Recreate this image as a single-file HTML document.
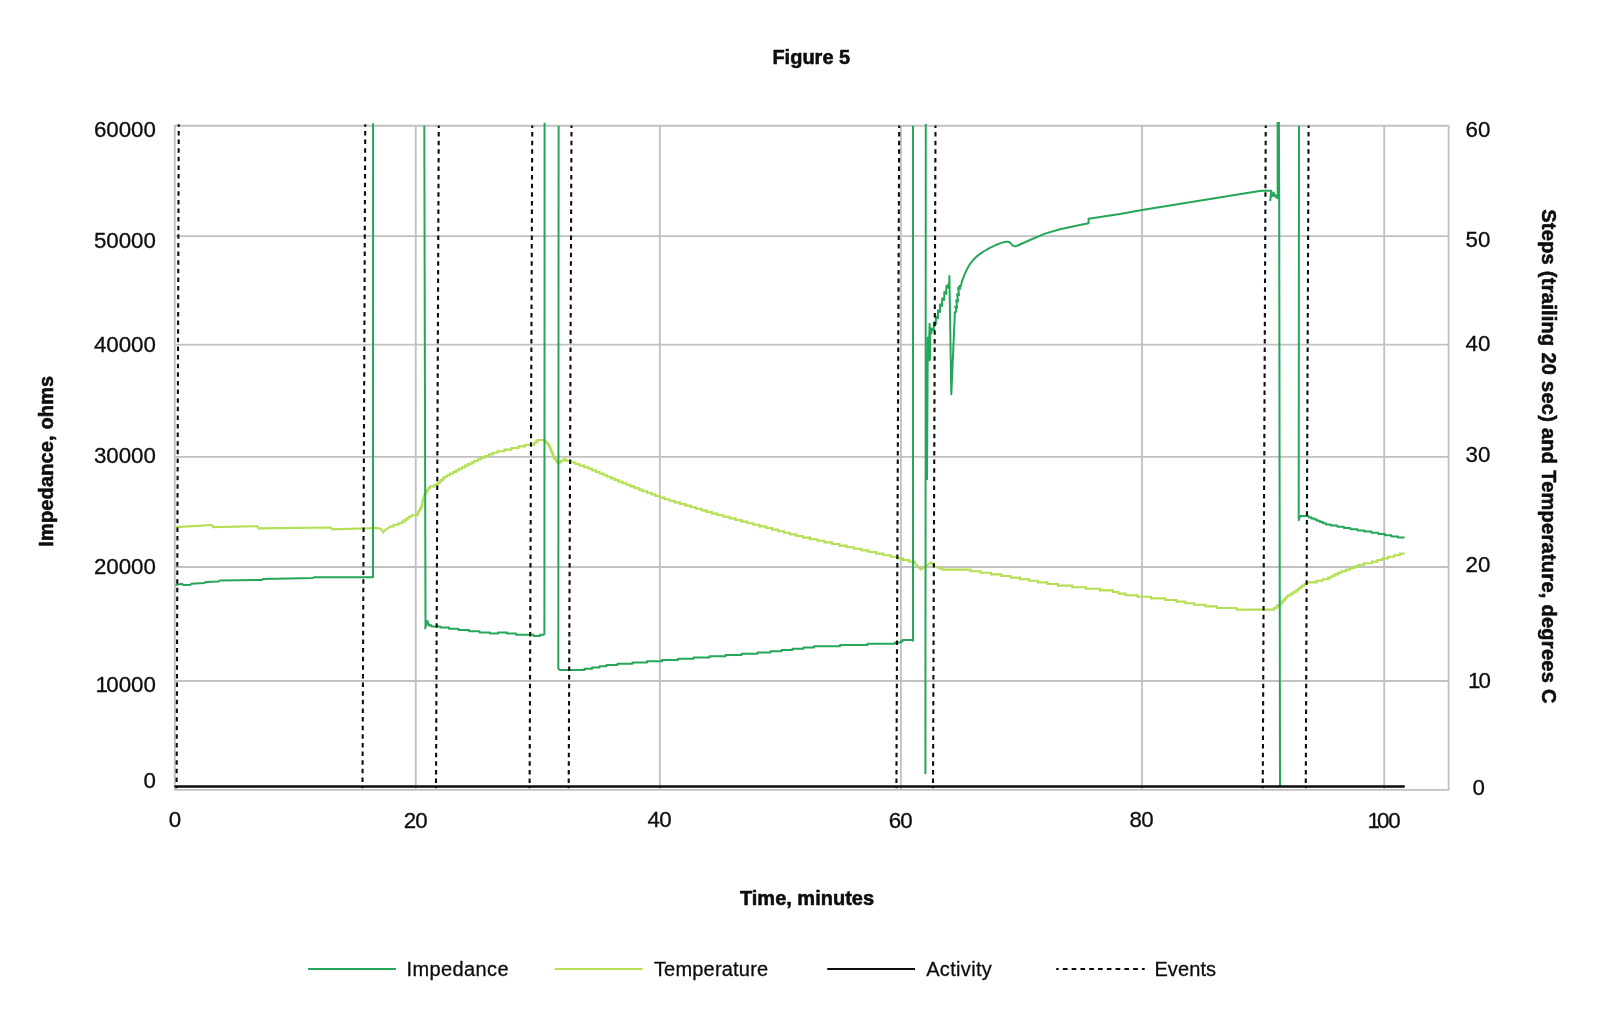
<!DOCTYPE html>
<html lang="en">
<head>
<meta charset="utf-8">
<title>Figure 5</title>
<style>
html,body{margin:0;padding:0;background:#fff;}
body{width:1600px;height:1020px;overflow:hidden;font-family:"Liberation Sans",Arial,Helvetica,sans-serif;}
svg{display:block;will-change:transform;}
</style>
</head>
<body>
<svg width="1600" height="1020" viewBox="0 0 1600 1020">
<rect width="1600" height="1020" fill="#ffffff"/>
<g fill="none" stroke="#c1c1c1" stroke-width="1.85">
<rect x="174.8" y="125.75" width="1273.8" height="664.05" stroke-linejoin="round"/>
<line x1="415.75" y1="125.75" x2="415.75" y2="789.8"/>
<line x1="659.85" y1="125.75" x2="659.85" y2="789.8"/>
<line x1="900.9" y1="125.75" x2="900.9" y2="789.8"/>
<line x1="1142.0" y1="125.75" x2="1142.0" y2="789.8"/>
<line x1="1384.2" y1="125.75" x2="1384.2" y2="789.8"/>
<line x1="174.8" y1="236.1" x2="1448.6" y2="236.1"/>
<line x1="174.8" y1="344.55" x2="1448.6" y2="344.55"/>
<line x1="174.8" y1="456.85" x2="1448.6" y2="456.85"/>
<line x1="174.8" y1="567.0" x2="1448.6" y2="567.0"/>
<line x1="174.8" y1="681.0" x2="1448.6" y2="681.0"/>
</g>
<path d="M175.25,527.1 L212,525 L213,527.1 L257.5,526.25 L258.5,528.35 L331,527.5 L332,529.4 L378.25,528 L381,529 L383.2,532.4 L385,530 L390.5,526.6 L393.5,526.4 L393.5,524.8 L398.5,524.8 L398.5,523.2 L402,523.2 L402,521.6 L404.5,521.6 L404.5,520 L406.5,520 L406.5,518.4 L409,518.4 L409,516.8 L411.5,516.8 L411.5,515.2 L417.5,515.2 L417.5,513.6 L418,513.6 L418,512 L419,512 L419,510.4 L420,510.4 L420,508.8 L421,508.8 L421,507.2 L421.5,507.2 L421.5,505.6 L422,505.6 L422,504 L422.5,504 L422.5,500.8 L423,500.8 L423,499.2 L423.5,499.2 L423.5,497.6 L424,497.6 L424,496 L424.5,496 L424.5,494.4 L425.5,494.4 L425.5,492.8 L426.5,492.8 L426.5,491.2 L427.5,491.2 L427.5,489.6 L428.5,489.6 L428.5,488 L430,488 L430,486.4 L434.5,486.4 L434.5,484.8 L437.5,484.8 L437.5,483.2 L439.5,483.2 L439.5,481.6 L441,481.6 L441,480 L443,480 L443,478.4 L444.5,478.4 L444.5,476.8 L447,476.8 L447,475.2 L450,475.2 L450,473.6 L453,473.6 L453,472 L456,472 L456,470.4 L459,470.4 L459,468.8 L462,468.8 L462,467.2 L465,467.2 L465,465.6 L468,465.6 L468,464 L471.5,464 L471.5,462.4 L474.5,462.4 L474.5,460.8 L478,460.8 L478,459.2 L481,459.2 L481,457.6 L485,457.6 L485,456 L489,456 L489,454.4 L492.5,454.4 L492.5,452.8 L497.5,452.8 L497.5,451.2 L504.5,451.2 L504.5,449.6 L511.5,449.6 L511.5,448 L518.5,448 L518.5,446.4 L525,446.4 L525,444.8 L534,444.8 L534,443.2 L535.5,443.2 L535.5,441.6 L537.5,441.6 L537.5,440 L545,440 L545,441.6 L546.5,441.6 L546.5,443.2 L548,443.2 L548,444.8 L549,444.8 L549,446.4 L550,446.4 L550,448 L550.5,448 L550.5,449.6 L551,449.6 L551,451.2 L552,451.2 L552,452.8 L552.5,452.8 L552.5,454.4 L553,454.4 L553,456 L553.5,456 L553.5,457.6 L554.5,457.6 L554.5,459.2 L556,459.2 L556,460.8 L557,460.8 L557,462.4 L561,462.4 L561,460.8 L563.5,460.8 L563.5,459.2 L566,459.2 L566,460.8 L571,460.8 L571,462.4 L575.5,462.4 L575.5,464 L579.5,464 L579.5,465.6 L584,465.6 L584,467.2 L588.5,467.2 L588.5,468.8 L592,468.8 L592,470.4 L596,470.4 L596,472 L599.5,472 L599.5,473.6 L603.5,473.6 L603.5,475.2 L607,475.2 L607,476.8 L611,476.8 L611,478.4 L614.5,478.4 L614.5,480 L618.5,480 L618.5,481.6 L622.5,481.6 L622.5,483.2 L626.5,483.2 L626.5,484.8 L630.5,484.8 L630.5,486.4 L634.5,486.4 L634.5,488 L638.5,488 L638.5,489.6 L642.5,489.6 L642.5,491.2 L647,491.2 L647,492.8 L651.5,492.8 L651.5,494.4 L655.5,494.4 L655.5,496 L660,496 L660,497.6 L664.5,497.6 L664.5,499.2 L669.5,499.2 L669.5,500.8 L674.5,500.8 L674.5,502.4 L680,502.4 L680,504 L685.5,504 L685.5,505.6 L691,505.6 L691,507.2 L696,507.2 L696,508.8 L701.5,508.8 L701.5,510.4 L706.5,510.4 L706.5,512 L712,512 L712,513.6 L717.5,513.6 L717.5,515.2 L723.5,515.2 L723.5,516.8 L729.5,516.8 L729.5,518.4 L735.5,518.4 L735.5,520 L741.5,520 L741.5,521.6 L747.5,521.6 L747.5,523.2 L753.5,523.2 L753.5,524.8 L759.5,524.8 L759.5,526.4 L766,526.4 L766,528 L772,528 L772,529.6 L778,529.6 L778,531.2 L784,531.2 L784,532.8 L790,532.8 L790,534.4 L796.5,534.4 L796.5,536 L803,536 L803,537.6 L810,537.6 L810,539.2 L817.5,539.2 L817.5,540.8 L824.5,540.8 L824.5,542.4 L832,542.4 L832,544 L839.5,544 L839.5,545.6 L846.5,545.6 L846.5,547.2 L854,547.2 L854,548.8 L861.5,548.8 L861.5,550.4 L868.5,550.4 L868.5,552 L876,552 L876,553.6 L883.5,553.6 L883.5,555.2 L890.5,555.2 L890.5,556.8 L897.5,556.8 L897.5,558.4 L903,558.4 L903,560 L909,560 L909,561.6 L915,561.6 L915,563.2 L915,563.2 L920.75,569.5 L926.25,565.75 L931.25,562.5 L933.75,565.75 L940,568.75 L942.5,568 L942.5,569.6 L970.5,569.6 L970.5,571.2 L980.5,571.2 L980.5,572.8 L991,572.8 L991,574.4 L1001.5,574.4 L1001.5,576 L1010.5,576 L1010.5,577.6 L1020,577.6 L1020,579.2 L1029,579.2 L1029,580.8 L1038,580.8 L1038,582.4 L1047.5,582.4 L1047.5,584 L1058,584 L1058,585.6 L1072,585.6 L1072,587.2 L1086,587.2 L1086,588.8 L1100,588.8 L1100,590.4 L1113,590.4 L1113,592 L1118.5,592 L1118.5,593.6 L1125.5,593.6 L1125.5,595.2 L1137.5,595.2 L1137.5,596.8 L1151,596.8 L1151,598.4 L1165,598.4 L1165,600 L1176.5,600 L1176.5,601.6 L1185.5,601.6 L1185.5,603.2 L1194,603.2 L1194,604.8 L1205.5,604.8 L1205.5,606.4 L1217,606.4 L1217,608 L1236.5,608 L1236.5,609.6 L1274,609.6 L1274,608 L1276.5,608 L1276.5,606.4 L1278,606.4 L1278,604.8 L1280.5,604.8 L1280.5,603.2 L1282,603.2 L1282,601.6 L1283.5,601.6 L1283.5,600 L1285,600 L1285,598.4 L1286.5,598.4 L1286.5,596.8 L1288,596.8 L1288,595.2 L1291,595.2 L1291,593.6 L1293.5,593.6 L1293.5,592 L1296,592 L1296,590.4 L1298,590.4 L1298,588.8 L1300,588.8 L1300,587.2 L1302,587.2 L1302,585.6 L1304.5,585.6 L1304.5,584 L1307,584 L1307,582.4 L1316.5,582.4 L1316.5,580.8 L1322.5,580.8 L1322.5,579.2 L1328,579.2 L1328,577.6 L1331.5,577.6 L1331.5,576 L1334.5,576 L1334.5,574.4 L1338,574.4 L1338,572.8 L1341.5,572.8 L1341.5,571.2 L1346,571.2 L1346,569.6 L1350,569.6 L1350,568 L1354.5,568 L1354.5,566.4 L1358.5,566.4 L1358.5,564.8 L1364,564.8 L1364,563.2 L1372,563.2 L1372,561.6 L1377.5,561.6 L1377.5,560 L1382.5,560 L1382.5,558.4 L1388,558.4 L1388,556.8 L1394,556.8 L1394,555.2 L1400,555.2 L1400,553.6 L1404.5,553.6" fill="none" stroke="#b2e050" stroke-width="2.1" stroke-linejoin="miter"/>
<path d="M175.5,585 L182,583.8 L183.2,585 L190.4,584.9 L191.4,583.7 L204.4,583 L205.4,582 L218.5,581.6 L219.5,580.6 L262,579.9 L263,579.1 L313,578 L314,577.2 L373,577.2 L373.1,123.25 M424.3,125.75 L425.5,626.5 L425.1,628.2 L427.5,621 L429,625.6 L430,625.2 L431.5,625.2 L431.5,626.4 L440.5,626.4 L440.5,627.6 L449,627.6 L449,628.8 L458.5,628.8 L458.5,630 L469,630 L469,631.2 L479.5,631.2 L479.5,632.4 L490,632.4 L490,633.6 L498,633.6 L498,632.4 L507,632.4 L507,633.6 L516,633.6 L516,634.8 L533.5,634.8 L533.5,636 L540,636 L540,634.8 L543.5,634.8 L544.4,634 L544.6,122.75 M558.6,125.75 L558.3,668.4 L559.2,669.5 L560,670 L584.5,670 L584.5,668.75 L592,668.75 L592,667.5 L599.5,667.5 L599.5,666.25 L606.5,666.25 L606.5,665 L617.5,665 L617.5,663.75 L632.5,663.75 L632.5,662.5 L647,662.5 L647,661.25 L662,661.25 L662,660 L678,660 L678,658.75 L693.5,658.75 L693.5,657.5 L709.5,657.5 L709.5,656.25 L725.5,656.25 L725.5,655 L741.5,655 L741.5,653.75 L757.5,653.75 L757.5,652.5 L770.5,652.5 L770.5,651.25 L781.5,651.25 L781.5,650 L792.5,650 L792.5,648.75 L803.5,648.75 L803.5,647.5 L814,647.5 L814,646.25 L840,646.25 L840,645 L867.5,645 L867.5,643.75 L895,643.75 L895,642.5 L901,642.5 L901,641.25 L902.5,641.25 L902.5,640 L912.6,640 L913,640.6 L913,125.75 M925.8,124 L925.4,774 M927,480 L927.8,337.5 L928.6,360 L929.6,323.8 L929.9,360 L930.3,328 L931.4,333.2 L931.69,328.54 L933.74,330.27 L933.79,322.46 L935.84,324.19 L935.89,316.39 L937.94,318.12 L937.99,310.31 L940.04,312.04 L940.09,304.24 L942.14,305.97 L942.19,298.16 L944.24,299.89 L944.29,292.09 L946.34,293.82 L946.39,286.01 L948.44,287.74 L948.2,284.6 L949.2,284 L949.4,276 L951.3,394.2 L954.9,312.2 L956.4,311.6 L955.28,306.47 L957.11,307.71 L956.23,300.22 L958.06,301.46 L957.18,293.97 L959.01,295.21 L958.13,287.72 L959.96,288.96 L959.4,286 L960.8,286.4 L961.8,281.9 L964.2,275.4 L966.7,269.8 L969.9,264.1 L973.9,259.2 L977,256.3 L980.4,253.6 L984.4,251 L988.5,248.7 L992.5,246.6 L996.6,244.7 L1000.6,243.1 L1004.7,241.9 L1006.4,241.7 L1007.8,241.8 L1009.4,242.3 L1010.6,243.1 L1012,244.7 L1013.4,245.9 L1015.1,246.4 L1016.6,246 L1030,240 L1045,233.6 L1060,229.2 L1075,225.9 L1088.5,223.3 L1088.6,218.8 L1120,213.9 L1142,210.1 L1259.5,190.9 L1262.5,190.75 L1271.3,190.75 L1270.2,200.2 L1271.6,193.2 L1272.4,196 L1273.5,192.4 L1274.6,196.2 L1275.6,195.2 L1276.4,197.6 L1277.7,198.2 L1277.6,122 M1278.9,122 L1279.2,198 L1280,786.4 M1299,125.75 L1298.7,520.2 L1300.2,516.2 L1300.4,516 L1308.4,516 L1308.4,517.2 L1311.4,517.2 L1311.4,518.4 L1314.4,518.4 L1314.4,519.6 L1316.9,519.6 L1316.9,520.8 L1319.9,520.8 L1319.9,522 L1322.9,522 L1322.9,523.2 L1325.9,523.2 L1325.9,524.4 L1330.9,524.4 L1330.9,525.6 L1337.4,525.6 L1337.4,526.8 L1343.9,526.8 L1343.9,528 L1350.4,528 L1350.4,529.2 L1357.4,529.2 L1357.4,530.4 L1364.4,530.4 L1364.4,531.6 L1371.4,531.6 L1371.4,532.8 L1378.4,532.8 L1378.4,534 L1384.9,534 L1384.9,535.2 L1391.4,535.2 L1391.4,536.4 L1397.9,536.4 L1397.9,537.6 L1404.5,537.6" fill="none" stroke="#25a658" stroke-width="2" stroke-linejoin="round"/>
<line x1="175.4" y1="786.5" x2="1403.9" y2="786.5" stroke="#0d0d0d" stroke-width="2.3" stroke-linecap="round"/>
<g stroke="#0d0d0d" stroke-width="2.1" stroke-dasharray="4.5 4.12" fill="none">
<line x1="178.75" y1="124.2" x2="176.6" y2="788.3" stroke-dashoffset="1.9"/>
<line x1="365.25" y1="124.2" x2="362.5" y2="788.3" stroke-dashoffset="1.9"/>
<line x1="438.75" y1="125.6" x2="436.0" y2="788.3" stroke-dashoffset="2.2"/>
<line x1="532.25" y1="125.6" x2="529.6" y2="788.3" stroke-dashoffset="2.2"/>
<line x1="571.5" y1="125.6" x2="568.7" y2="788.3" stroke-dashoffset="2.2"/>
<line x1="899.2" y1="125.6" x2="896.4" y2="788.3" stroke-dashoffset="2.2"/>
<line x1="935.5" y1="125.6" x2="933.0" y2="788.3" stroke-dashoffset="2.2"/>
<line x1="1265.75" y1="125.6" x2="1262.75" y2="788.3" stroke-dashoffset="2.2"/>
<line x1="1308.6" y1="125.6" x2="1305.75" y2="788.3" stroke-dashoffset="2.2"/>
</g>
<g font-family="'Liberation Sans', Arial, Helvetica, sans-serif" fill="#0d0d0d" stroke="#0d0d0d" stroke-width="0.3" stroke-linejoin="round">
<text x="811.3" y="64" font-size="20" font-weight="700" stroke-width="0.55" text-anchor="middle">Figure 5</text>
<text x="807" y="905.4" font-size="20" font-weight="700" stroke-width="0.55" text-anchor="middle">Time, minutes</text>
<text transform="translate(52.6 461.2) rotate(-90)" font-size="20" font-weight="700" stroke-width="0.55" text-anchor="middle" letter-spacing="0.14">Impedance, ohms</text>
<text transform="translate(1542.2 456.4) rotate(90)" font-size="20" font-weight="700" stroke-width="0.55" text-anchor="middle" letter-spacing="0.27">Steps (trailing 20 sec) and Temperature, degrees C</text>
<text x="93.88" y="137.3" font-size="22.3">60000</text>
<text x="93.88" y="247.8" font-size="22.3">50000</text>
<text x="93.88" y="352.1" font-size="22.3">40000</text>
<text x="93.88" y="463.3" font-size="22.3">30000</text>
<text x="93.88" y="573.8" font-size="22.3">20000</text>
<text y="692.1" font-size="22.3"><tspan x="95.58">1</tspan><tspan x="106.29">0000</tspan></text>
<text x="143.50" y="788.3" font-size="22.3">0</text>
<text x="1465.60" y="136.6" font-size="22.3">60</text>
<text x="1465.60" y="246.6" font-size="22.3">50</text>
<text x="1465.60" y="350.8" font-size="22.3">40</text>
<text x="1465.60" y="462.1" font-size="22.3">30</text>
<text x="1465.60" y="572.3" font-size="22.3">20</text>
<text y="688.3" font-size="22.3"><tspan x="1467.90">1</tspan><tspan x="1478.60">0</tspan></text>
<text x="1472.60" y="795.4" font-size="22.3">0</text>
<text x="168.70" y="827.4" font-size="22.3" letter-spacing="-0.7">0</text>
<text x="403.65" y="827.5" font-size="22.3" letter-spacing="-0.7">20</text>
<text x="647.45" y="827.0" font-size="22.3" letter-spacing="-0.7">40</text>
<text x="888.65" y="828.2" font-size="22.3" letter-spacing="-0.7">60</text>
<text x="1129.45" y="827.0" font-size="22.3" letter-spacing="-0.7">80</text>
<text y="827.5" font-size="22.3" letter-spacing="-1.2"><tspan x="1367.50">1</tspan><tspan x="1377.00">00</tspan></text>
<text x="406.6" y="975.8" font-size="20" letter-spacing="0.37">Impedance</text>
<text x="653.9" y="975.8" font-size="20" letter-spacing="0.2">Temperature</text>
<text x="926.2" y="975.8" font-size="20" letter-spacing="0.33">Activity</text>
<text x="1154.4" y="975.8" font-size="20" letter-spacing="0.1">Events</text>
</g>
<line x1="308" y1="968.9" x2="396" y2="968.9" stroke="#25a658" stroke-width="2"/>
<line x1="554.8" y1="968.9" x2="642.6" y2="968.9" stroke="#b2e050" stroke-width="2"/>
<line x1="827.2" y1="968.9" x2="915" y2="968.9" stroke="#0d0d0d" stroke-width="2"/>
<line x1="1056.25" y1="969" x2="1144.7" y2="969" stroke="#0d0d0d" stroke-width="2.1" stroke-dasharray="4.7 4.09" stroke-dashoffset="2.2"/>
</svg>
</body>
</html>
